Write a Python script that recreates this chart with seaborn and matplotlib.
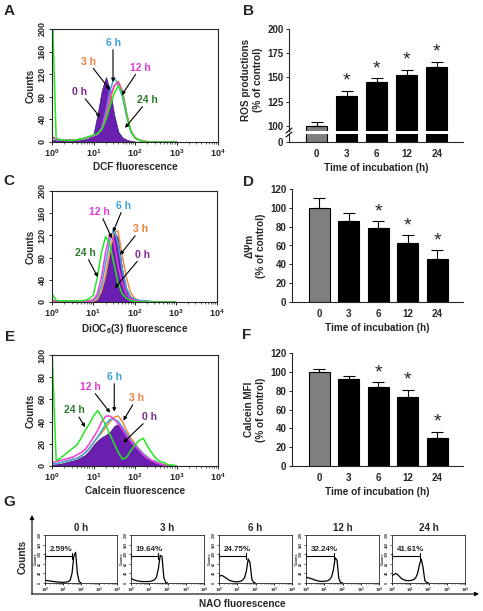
import numpy as np
import pandas as pd
import matplotlib
matplotlib.use("Agg")
import matplotlib.pyplot as plt
import seaborn as sns
from matplotlib.ticker import FixedLocator, LogLocator, NullFormatter, FuncFormatter

sns.set_style("ticks")
plt.rcParams["font.family"] = ["Liberation Sans", "DejaVu Sans"]
plt.rcParams["font.weight"] = "bold"
plt.rcParams["axes.labelweight"] = "bold"
plt.rcParams["mathtext.fontset"] = "custom"
plt.rcParams["mathtext.rm"] = "Liberation Sans:bold"
plt.rcParams["mathtext.bf"] = "Liberation Sans:bold"
plt.rcParams["mathtext.it"] = "Liberation Sans:bold:italic"

# ---- data ----
times = ["0", "3", "6", "12", "24"]
hour_labels = ["0 h", "3 h", "6 h", "12 h", "24 h"]

# bar panels (% of control)
ros_mean = [100, 131, 145, 153, 161]
ros_err = [4, 5, 4, 5, 5]
ros_star = [False, True, True, True, True]
dpsi_mean = [100, 86, 79, 63, 46]
dpsi_err = [10, 8, 7, 8, 9]
dpsi_star = [False, False, True, True, True]
calcein_mean = [100, 92, 84, 73, 30]
calcein_err = [3.5, 4, 5, 8, 6.5]
calcein_star = [False, False, True, True, True]

# flow histograms, counts at log10(fluorescence) = 0.0, 0.1, ... 3.0
DEC = [0.0, 0.1, 0.2, 0.3, 0.4, 0.5, 0.6, 0.7, 0.8, 0.9, 1.0, 1.1, 1.2, 1.3, 1.4, 1.5,
       1.6, 1.7, 1.8, 1.9, 2.0, 2.1, 2.2, 2.3, 2.4, 2.5, 2.6, 2.7, 2.8, 2.9, 3.0]

dcf_0h = [4, 3, 3, 3, 2, 2, 3, 4, 5, 7, 15, 50, 92, 115, 91, 48, 18, 8, 4, 2, 1, 0, 0, 0, 0, 0, 0, 0, 0, 0, 0]
dcf_3h = [10, 5, 4, 3, 3, 3, 4, 5, 7, 9, 11, 14, 22, 45, 75, 98, 108, 90, 50, 20, 8, 4, 2, 1, 0, 0, 0, 0, 0, 0, 0]
dcf_6h = [8, 5, 4, 3, 3, 3, 4, 5, 7, 9, 11, 14, 25, 55, 92, 114, 100, 80, 45, 18, 7, 3, 1, 0, 0, 0, 0, 0, 0, 0, 0]
dcf_12h = [8, 5, 4, 3, 3, 3, 4, 5, 7, 9, 11, 14, 24, 50, 82, 100, 105, 88, 48, 19, 7, 3, 1, 0, 0, 0, 0, 0, 0, 0, 0]
dcf_24h = [250, 6, 4, 3, 3, 3, 4, 5, 7, 10, 12, 15, 22, 40, 64, 86, 100, 85, 48, 18, 7, 3, 1, 0, 0, 0, 0, 0, 0, 0, 0]

dioc_0h = [0, 0, 0, 0, 0, 0, 0, 0, 0, 0, 1, 4, 18, 45, 85, 128, 115, 60, 25, 8, 3, 1, 0, 0, 0, 0, 0, 0, 0, 0, 0]
dioc_3h = [3, 2, 1, 1, 1, 1, 1, 1, 1, 1, 2, 6, 20, 50, 90, 125, 128, 85, 45, 18, 7, 3, 2, 1, 0, 0, 0, 0, 0, 0, 0]
dioc_6h = [2, 1, 1, 1, 1, 1, 1, 1, 1, 2, 3, 10, 30, 70, 110, 133, 105, 60, 25, 10, 5, 3, 2, 2, 1, 0, 0, 0, 0, 0, 0]
dioc_12h = [2, 1, 1, 1, 1, 1, 1, 1, 1, 2, 4, 15, 45, 90, 122, 110, 65, 35, 15, 6, 3, 1, 0, 0, 0, 0, 0, 0, 0, 0, 0]
dioc_24h = [15, 3, 2, 2, 2, 2, 2, 2, 3, 6, 12, 45, 90, 118, 105, 70, 35, 15, 7, 3, 1, 0, 0, 0, 0, 0, 0, 0, 0, 0, 0]

calc_0h = [1, 2, 2, 3, 4, 5, 6, 8, 10, 14, 19, 23, 26, 28, 31, 36, 38, 34, 28, 23, 19, 15, 11, 8, 5, 4, 2, 1, 0, 0, 0]
calc_3h = [2, 2, 3, 4, 5, 6, 7, 9, 12, 16, 21, 26, 30, 35, 40, 44, 45, 40, 32, 25, 20, 15, 11, 8, 5, 4, 2, 1, 0, 0, 0]
calc_6h = [2, 2, 3, 4, 5, 6, 7, 9, 12, 16, 21, 26, 32, 38, 42, 42, 40, 35, 29, 23, 19, 15, 11, 8, 5, 4, 2, 1, 0, 0, 0]
calc_12h = [3, 4, 5, 6, 7, 8, 10, 12, 15, 20, 26, 32, 40, 45, 45, 42, 38, 33, 27, 22, 18, 14, 10, 7, 5, 3, 2, 1, 0, 0, 0]
calc_24h = [105, 5, 7, 10, 13, 16, 19, 25, 32, 38, 45, 50, 44, 36, 28, 20, 12, 6, 8, 14, 19, 23, 25, 18, 12, 7, 4, 3, 1, 1, 0]

# NAO histograms (panel G), log10 grid 0.0 ... 2.0
NAO_DEC = DEC[:21]
nao_0h = [12, 10, 9, 8, 7, 6, 5, 4, 4, 3, 3, 3, 4, 6, 12, 40, 110, 128, 40, 5, 1]
nao_3h = [20, 15, 12, 10, 8, 7, 6, 6, 6, 6, 6, 8, 10, 14, 25, 60, 115, 110, 22, 3, 0]
nao_6h = [25, 32, 30, 25, 20, 15, 10, 8, 6, 5, 5, 6, 8, 12, 22, 50, 100, 85, 15, 2, 0]
nao_12h = [25, 22, 20, 18, 15, 12, 10, 8, 7, 7, 7, 8, 10, 15, 25, 55, 105, 95, 18, 2, 0]
nao_24h = [30, 35, 40, 35, 28, 20, 15, 12, 10, 10, 10, 12, 15, 22, 40, 75, 100, 65, 10, 2, 0]
nao_gate_end = [1.48, 1.49, 1.48, 1.53, 1.55]
nao_pct = ["2.59%", "19.64%", "24.75%", "32.24%", "41.61%"]

# annotation placement (log10 x, counts): label position, arrow tip
dcf_notes = {"0 h": ((0.67, 88), (1.16, 44)), "3 h": ((0.87, 142), (1.40, 92)),
             "6 h": ((1.47, 175), (1.47, 106)), "12 h": ((2.12, 131), (1.68, 83)),
             "24 h": ((2.31, 74), (1.76, 25))}
dioc_notes = {"12 h": ((1.16, 162), (1.45, 115)), "6 h": ((1.74, 173), (1.48, 126)),
              "3 h": ((2.14, 131), (1.65, 85)), "0 h": ((2.2, 85), (1.52, 25)),
              "24 h": ((0.8, 88), (1.11, 45))}
calc_notes = {"24 h": ((0.55, 50), (0.8, 35)), "12 h": ((0.92, 71), (1.4, 48)),
              "6 h": ((1.5, 80), (1.5, 49)), "3 h": ((2.04, 61), (1.72, 41)),
              "0 h": ((2.36, 44), (1.72, 21))}

# ---- styling ----
bar_colors = ["#808080", "black", "black", "black", "black"]
line_colors = {"3 h": "#f28a3c", "6 h": "#3aa6e0", "12 h": "#f03cd8", "24 h": "#22e822"}
text_colors = {"0 h": "#7a2a8c", "3 h": "#ee7d3a", "6 h": "#3a9fda", "12 h": "#e23ad6", "24 h": "#2d7a2d"}
fill_color = "#6a1fb0"

W, H = 483, 611
fig = plt.figure(figsize=(W / 100, H / 100), dpi=100)


def px_axes(x0, y0, x1, y1):
    return fig.add_axes([x0 / W, 1 - y1 / H, (x1 - x0) / W, (y1 - y0) / H])


def log_xaxis(ax, size=6.5, pad=1.5, length=2.5):
    ax.set_xscale("log")
    ax.set_xlim(1, 1e4)
    ax.xaxis.set_major_locator(FixedLocator([1, 10, 100, 1000, 10000]))
    ax.xaxis.set_major_formatter(FuncFormatter(lambda v, p: f"10$^{{{int(round(np.log10(v)))}}}$"))
    ax.xaxis.set_minor_locator(LogLocator(base=10, subs=np.arange(2, 10), numticks=20))
    ax.xaxis.set_minor_formatter(NullFormatter())
    ax.tick_params(axis="x", which="major", labelsize=size, length=length, width=0.7, pad=pad)
    ax.tick_params(axis="x", which="minor", length=length * 0.6, width=0.5)


def flow_panel(ax, curves, ymax, yticks, xlabel, notes):
    x = 10 ** np.array(DEC)
    ax.fill_between(x, curves[0], color=fill_color, edgecolor="#2a0a5a", lw=0.4, zorder=1)
    for lab, y in zip(hour_labels[1:], curves[1:]):
        sns.lineplot(x=x, y=y, color=line_colors[lab], lw=1.1, ax=ax, zorder=2)
    log_xaxis(ax)
    ax.set_ylim(0, ymax)
    ax.set_yticks(yticks)
    ax.tick_params(axis="y", labelsize=6.5, length=2.5, width=0.7, pad=1.5, labelrotation=90)
    for t in ax.get_yticklabels():
        t.set_va("center")
    for s in ax.spines.values():
        s.set_linewidth(0.8)
    ax.set_xlabel(xlabel, fontsize=7.2, labelpad=2)
    ax.set_ylabel("Counts", fontsize=7.2, labelpad=1.5)
    for lab, (txt, tip) in notes.items():
        ax.annotate(lab, xy=(10 ** tip[0], tip[1]), xytext=(10 ** txt[0], txt[1]),
                    color=text_colors[lab], fontsize=7.5, fontweight="bold",
                    ha="center", va="center",
                    bbox=dict(boxstyle="square,pad=0.15", fc="none", ec="none"),
                    arrowprops=dict(arrowstyle="-|>", color="black", lw=0.8,
                                    mutation_scale=5, shrinkA=0, shrinkB=0),
                    zorder=5)


def bars(ax, means, errs):
    df = pd.DataFrame({"time": times, "value": means})
    sns.barplot(data=df, x="time", y="value", hue="time", palette=bar_colors, legend=False,
                width=0.7, edgecolor="black", linewidth=0.8, ax=ax)
    ax.errorbar(range(len(times)), means, yerr=[np.zeros(len(errs)), errs], fmt="none",
                ecolor="black", elinewidth=0.8, capsize=4, capthick=0.8, zorder=4)
    ax.set_xlim(-0.92, 4.87)
    sns.despine(ax=ax)
    ax.spines["left"].set_linewidth(0.8)
    ax.spines["bottom"].set_linewidth(0.8)
    ax.tick_params(axis="y", labelsize=7, length=2.5, width=0.7, pad=1.5)
    ax.tick_params(axis="x", labelsize=7, length=0, pad=5)


def stars(ax, means, errs, flags):
    for i, f in enumerate(flags):
        if f:
            ax.text(i, means[i] + errs[i] + 10, "*", ha="center", va="center", fontsize=14,
                    fontweight="normal")


# ---- A ----
axA = px_axes(52, 29, 218, 142)
flow_panel(axA, [dcf_0h, dcf_3h, dcf_6h, dcf_12h, dcf_24h], 200, [0, 40, 80, 120, 160, 200],
           "DCF fluorescence", dcf_notes)

# ---- B (broken axis) ----
axB = px_axes(289, 29, 463, 131)
axB0 = px_axes(289, 134, 463, 142)
bars(axB, ros_mean, ros_err)
bars(axB0, ros_mean, ros_err)
axB.set_ylim(94.8, 200)
axB.set_yticks([100, 125, 150, 175, 200])
axB.spines["bottom"].set_visible(False)
axB.set_xticks([])
axB.set_xlabel("")
axB.set_ylabel("ROS productions\n(% of control)", fontsize=7.2, labelpad=3)
stars(axB, ros_mean, ros_err, ros_star)
axB0.set_ylim(0, 8)
axB0.set_yticks([0])
axB0.set_ylabel("")
axB0.set_xlabel("Time of incubation (h)", fontsize=7.2, labelpad=3)

# ---- C ----
axC = px_axes(52, 191, 217, 302)
flow_panel(axC, [dioc_0h, dioc_3h, dioc_6h, dioc_12h, dioc_24h], 200, [0, 40, 80, 120, 160, 200],
           "DiOC$_6$(3) fluorescence", dioc_notes)

# ---- D ----
axD = px_axes(292, 189, 463, 302)
bars(axD, dpsi_mean, dpsi_err)
axD.set_ylim(0, 120)
axD.set_yticks([0, 20, 40, 60, 80, 100, 120])
axD.set_ylabel("ΔΨm\n(% of control)", fontsize=7.2, labelpad=3)
axD.set_xlabel("Time of incubation (h)", fontsize=7.2, labelpad=3)
stars(axD, dpsi_mean, dpsi_err, dpsi_star)

# ---- E ----
axE = px_axes(52, 355, 218, 466)
flow_panel(axE, [calc_0h, calc_3h, calc_6h, calc_12h, calc_24h], 100, [0, 20, 40, 60, 80, 100],
           "Calcein fluorescence", calc_notes)

# ---- F ----
axF = px_axes(292, 353, 463, 466)
bars(axF, calcein_mean, calcein_err)
axF.set_ylim(0, 120)
axF.set_yticks([0, 20, 40, 60, 80, 100, 120])
axF.set_ylabel("Calcein MFI\n(% of control)", fontsize=7.2, labelpad=3)
axF.set_xlabel("Time of incubation (h)", fontsize=7.2, labelpad=3)
stars(axF, calcein_mean, calcein_err, calcein_star)

# ---- G ----
g_boxes = [(45, 535, 117, 583), (131, 535, 204, 583), (219, 535, 292, 583),
           (306, 535, 379, 583), (392, 535, 465, 583)]
nao_curves = [nao_0h, nao_3h, nao_6h, nao_12h, nao_24h]
xg = 10 ** np.array(NAO_DEC)
for k, box in enumerate(g_boxes):
    ax = px_axes(*box)
    sns.lineplot(x=xg, y=nao_curves[k], color="black", lw=0.9, ax=ax)
    log_xaxis(ax, size=3, pad=0.8, length=1.2)
    ax.set_ylim(0, 200)
    ax.set_yticks([0, 40, 80, 120, 160, 200])
    ax.tick_params(axis="y", labelsize=2.6, length=1.2, width=0.5, pad=0.8, labelrotation=90)
    for t in ax.get_yticklabels():
        t.set_va("center")
    for s in ax.spines.values():
        s.set_linewidth(0.6)
    ax.set_ylabel("Counts", fontsize=2.6, labelpad=0.5)
    ge = 10 ** nao_gate_end[k]
    ax.plot([1, ge], [112, 112], color="black", lw=0.8, clip_on=False)
    ax.plot([1, 1], [100, 124], color="black", lw=0.8, clip_on=False)
    ax.plot([ge, ge], [100, 124], color="black", lw=0.8)
    ax.text(10 ** 0.25, 140, nao_pct[k], fontsize=5.8, fontweight="bold", ha="left", va="center")
    ax.set_title(hour_labels[k], fontsize=7, fontweight="bold", pad=3)

# ---- overlay: panel letters, axis break, G arrows ----
ov = fig.add_axes([0, 0, 1, 1])
ov.set_xlim(0, W)
ov.set_ylim(H, 0)
ov.axis("off")
for letter, (lx, ly) in {"A": (9, 11), "B": (248, 11), "C": (9, 181), "D": (248, 182),
                         "E": (10, 337), "F": (247, 335), "G": (9, 502)}.items():
    ov.text(lx, ly, letter, fontsize=11, fontweight="bold", ha="center", va="center")
ov.plot([286, 292], [133, 128], color="black", lw=0.8)
ov.plot([286, 292], [137, 132], color="black", lw=0.8)
ov.annotate("", xy=(32, 515), xytext=(32, 594),
            arrowprops=dict(arrowstyle="-|>", color="black", lw=0.8, mutation_scale=6,
                            shrinkA=0, shrinkB=0))
ov.annotate("", xy=(479, 594), xytext=(31.6, 594),
            arrowprops=dict(arrowstyle="-|>", color="black", lw=0.8, mutation_scale=6,
                            shrinkA=0, shrinkB=0))
ov.text(23, 557, "Counts", fontsize=7.2, fontweight="bold", rotation=90, ha="center", va="center")
ov.text(242, 604, "NAO fluorescence", fontsize=7.2, fontweight="bold", ha="center", va="center")

fig.savefig("out.png", dpi=100)
